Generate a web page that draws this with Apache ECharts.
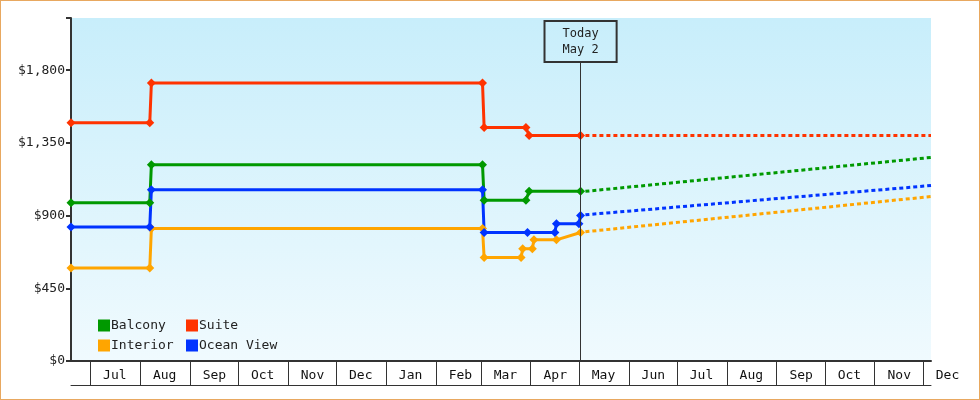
<!DOCTYPE html>
<html><head><meta charset="utf-8">
<script src="https://cdn.jsdelivr.net/npm/echarts@6/dist/echarts.min.js"></script>
<style>html,body{margin:0;padding:0;background:#fff}#c{width:978px;height:398px;border:1px solid #e8a860}</style>
</head><body><div id="c"></div>
<script>
var balcony = [['2022-06-19',980],['2022-08-07',980],['2022-08-08',1215],['2023-03-02',1215],['2023-03-03',995],['2023-03-29',995],['2023-03-31',1050],['2023-05-02',1050]];
var suite = [['2022-06-19',1475],['2022-08-07',1475],['2022-08-08',1720],['2023-03-02',1720],['2023-03-03',1445],['2023-03-29',1445],['2023-03-31',1395],['2023-05-02',1395]];
var interior = [['2022-06-19',575],['2022-08-07',575],['2022-08-08',820],['2023-03-02',820],['2023-03-03',640],['2023-03-26',640],['2023-03-27',695],['2023-04-02',695],['2023-04-03',750],['2023-04-17',750],['2023-05-02',795]];
var ocean = [['2022-06-19',830],['2022-08-07',830],['2022-08-08',1060],['2023-03-02',1060],['2023-03-03',795],['2023-03-30',795],['2023-04-16',795],['2023-04-17',850],['2023-05-01',850],['2023-05-02',900]];
var balconyF = [['2023-05-05',1050],['2023-12-06',1260]];
var suiteF = [['2023-05-05',1395],['2023-12-06',1395]];
var interiorF = [['2023-05-05',800],['2023-12-06',1018]];
var oceanF = [['2023-05-05',905],['2023-12-06',1086]];
var todayDate = '2023-05-02';
var todayLabel = 'Today\nMay 2';
var yTicks = [0, 450, 900, 1350, 1800];

var FONT = 'DejaVu Sans Mono';
var C = {Balcony:'#009900', Suite:'#ff3300', Interior:'#ffa500', 'Ocean View':'#0033ff'};
var DAY = 86400000;
function solid(name, data, extra){
  var s = {name:name, type:'line', data:data, symbol:'diamond', symbolSize:9, showSymbol:true,
    itemStyle:{color:C[name]}, lineStyle:{color:C[name], width:3}, z:3};
  return Object.assign(s, extra||{});
}
function fc(name, data){
  return {name:name+' f', type:'line', data:data, symbol:'none', lineStyle:{color:C[name], width:3, type:[4,3]}, z:2};
}
function leg(name, left, top){
  return {data:[name], left:left, top:top, itemWidth:12, itemHeight:12, icon:'rect', itemGap:0,
    textStyle:{fontFamily:FONT, fontSize:13, color:'#222', padding:[0,0,0,-4]}};
}
var chart = echarts.init(document.getElementById('c'));
chart.setOption({
  animation:false,
  grid:{left:70, right:48, top:17, bottom:38, show:true, borderWidth:0,
    backgroundColor:{type:'linear',x:0,y:0,x2:0,y2:1,colorStops:[{offset:0,color:'#c8eefb'},{offset:1,color:'#f0fafe'}]}},
  legend:[leg('Balcony',92,313), leg('Suite',180,313), leg('Interior',92,333), leg('Ocean View',180,333)],
  xAxis:[{type:'time', min:'2022-06-19', max:'2023-12-06', minInterval:28*DAY, maxInterval:31*DAY,
    axisLine:{lineStyle:{color:'#333', width:2}},
    axisTick:{show:true, length:24, lineStyle:{color:'#333', width:1}},
    axisLabel:{formatter:'{MMM}', fontFamily:FONT, fontSize:13, color:'#111', margin:8, padding:[0,0,0,49], showMaxLabel:false, hideOverlap:false},
    splitLine:{show:false}},
   {type:'time', position:'bottom', offset:24, min:'2022-06-19', max:'2023-12-06',
    axisLine:{show:true, lineStyle:{color:'#333', width:1}}, axisTick:{show:false}, axisLabel:{show:false}, splitLine:{show:false}}],
  yAxis:{type:'value', min:0, max:2123, interval:450,
    axisLine:{show:true, lineStyle:{color:'#333', width:2}},
    axisTick:{show:true, length:5, lineStyle:{color:'#333', width:2}},
    axisLabel:{fontFamily:FONT, fontSize:13, color:'#222', margin:6,
      formatter:function(v){return yTicks.indexOf(v)>=0 ? '$'+v.toLocaleString('en-US') : '';}},
    splitLine:{show:false}},
  series:[
    solid('Balcony', balcony),
    solid('Suite', suite, {markLine:{silent:true, symbol:'none',
      lineStyle:{color:'#333', width:1, type:'solid'},
      label:{show:true, position:'end', formatter:todayLabel, fontFamily:FONT, fontSize:12, color:'#222',
        lineHeight:16, padding:[5,18,4,18], borderColor:'#333', borderWidth:1, backgroundColor:'rgba(255,255,255,0)', distance:0},
      data:[[{coord:[todayDate,0]},{coord:[todayDate,1850]}]]}}),
    solid('Interior', interior),
    solid('Ocean View', ocean),
    fc('Balcony', balconyF), fc('Suite', suiteF), fc('Interior', interiorF), fc('Ocean View', oceanF)
  ]
});
</script></body></html>
